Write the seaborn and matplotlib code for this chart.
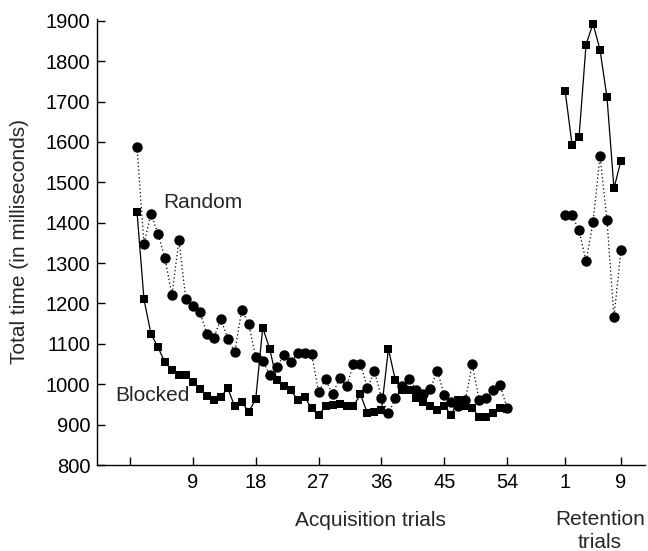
import matplotlib
matplotlib.use("Agg")
import matplotlib.pyplot as plt
import seaborn as sns
import pandas as pd
import numpy as np

# acquisition trials 1..54
acq_random = [1587, 1348, 1422, 1373, 1313, 1220, 1357, 1210, 1195, 1178,
              1125, 1115, 1162, 1113, 1080, 1185, 1148, 1068, 1058, 1024,
              1042, 1072, 1055, 1077, 1077, 1076, 981, 1012, 975, 1015,
              995, 1050, 1050, 990, 1033, 967, 928, 965, 995, 1014,
              985, 975, 988, 1034, 973, 955, 945, 960, 1050, 960,
              967, 987, 998, 940]
acq_blocked = [1427, 1210, 1125, 1092, 1054, 1035, 1024, 1022, 1006, 988,
               972, 961, 969, 990, 945, 956, 932, 963, 1140, 1088,
               1011, 995, 985, 962, 969, 940, 923, 946, 948, 951,
               946, 946, 975, 928, 932, 936, 1087, 1010, 987, 985,
               965, 955, 945, 936, 946, 924, 962, 946, 942, 919,
               918, 929, 942, 938]

# retention trials 1..9
ret_random = [1418, 1418, 1381, 1304, 1401, 1566, 1406, 1166, 1333]
ret_blocked = [1727, 1593, 1613, 1841, 1893, 1828, 1710, 1485, 1554]

acq_ticks = [9, 18, 27, 36, 45, 54]
ret_ticks = [1, 9]
ret_offset = 61.3  # where retention trials sit on the shared axis

rows = []
for i, (r, b) in enumerate(zip(acq_random, acq_blocked), start=1):
    rows.append(("Random", "acq", i, r))
    rows.append(("Blocked", "acq", i, b))
for i, (r, b) in enumerate(zip(ret_random, ret_blocked), start=1):
    rows.append(("Random", "ret", ret_offset + i, r))
    rows.append(("Blocked", "ret", ret_offset + i, b))
df = pd.DataFrame(rows, columns=["condition", "phase", "pos", "time"])

sns.set_style("ticks")
plt.rcParams["font.family"] = ["Liberation Sans", "DejaVu Sans"]

fig = plt.figure(figsize=(6.48, 5.51), dpi=100)
ax = fig.add_axes([0.150, 0.156, 0.846, 0.810])

styles = {
    "Random": dict(marker="o", linestyle=(0, (1, 2)), markersize=7.5),
    "Blocked": dict(marker="s", linestyle="-", markersize=6.3),
}
for (cond, phase), sub in df.groupby(["condition", "phase"]):
    st = styles[cond]
    sns.lineplot(data=sub, x="pos", y="time", ax=ax, color="black",
                 linewidth=0.9, marker=st["marker"], linestyle=st["linestyle"],
                 markersize=st["markersize"], markeredgewidth=0,
                 markerfacecolor="black", legend=False)

ax.set_xlim(-4.7, 73.8)
ax.set_ylim(800, 1905)
ax.set_yticks(np.arange(800, 1901, 100))

xt = [0] + acq_ticks + [ret_offset + t for t in ret_ticks]
xl = [""] + [str(t) for t in acq_ticks] + [str(t) for t in ret_ticks]
ax.set_xticks(xt)
ax.set_xticklabels(xl)

ax.tick_params(axis="both", direction="in", length=6, width=1, colors="black",
               labelsize=14.5)
ax.tick_params(axis="y", pad=5)
ax.tick_params(axis="x", pad=6)
sns.despine(ax=ax)
for s in ["left", "bottom"]:
    ax.spines[s].set_linewidth(1)
    ax.spines[s].set_color("black")

ax.set_xlabel("")
ax.set_ylabel("Total time (in milliseconds)", fontsize=15, labelpad=12)

ax.text(4.7, 1450, "Random", fontsize=15, ha="left", va="center")
ax.text(-2.1, 973, "Blocked", fontsize=15, ha="left", va="center")

fig.text(370 / 648, 1 - 520 / 551, "Acquisition trials", fontsize=15,
         ha="center", va="center")
fig.text(600 / 648, 1 - 531 / 551, "Retention\ntrials", fontsize=15,
         ha="center", va="center", linespacing=1.25)

fig.savefig("out.png", dpi=100)
